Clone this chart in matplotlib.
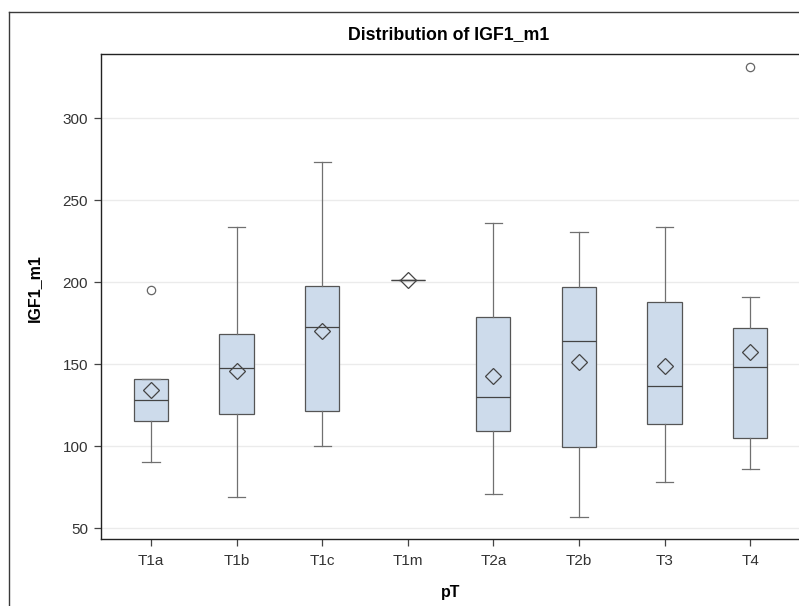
import matplotlib
matplotlib.use("Agg")
import matplotlib.pyplot as plt
from matplotlib.lines import Line2D

plt.rcParams['font.family'] = ['Liberation Sans', 'DejaVu Sans']

# Summary statistics of IGF1_m1 by pT stage
categories = ["T1a", "T1b", "T1c", "T1m", "T2a", "T2b", "T3", "T4"]
q1 = [115.2, 119.8, 121.3, 201.6, 109.3, 99.2, 113.7, 105.2]
medians = [128.2, 147.4, 172.6, 201.6, 129.8, 164.1, 136.5, 148.1]
q3 = [141.1, 168.5, 197.7, 201.6, 178.6, 196.9, 187.8, 171.8]
whisker_low = [90.5, 69.1, 99.8, 201.6, 70.8, 57.0, 77.8, 85.9]
whisker_high = [141.1, 233.6, 273.5, 201.6, 236.0, 230.5, 233.8, 190.8]
means = [134.2, 145.8, 170.1, 201.6, 142.8, 151.1, 148.8, 157.2]
outliers = [[195.5], [], [], [], [], [], [], [331.5]]
y_ticks = [50, 100, 150, 200, 250, 300]

stats = []
for i, name in enumerate(categories):
    stats.append(dict(label=name, q1=q1[i], med=medians[i], q3=q3[i],
                      whislo=whisker_low[i], whishi=whisker_high[i],
                      mean=means[i], fliers=outliers[i]))

W, H = 799, 606
fig = plt.figure(figsize=(W / 100, H / 100), dpi=100)

# outer graph frame (left and top edges)
frame_col = "#3a3a3a"
fig.add_artist(Line2D([9 / W, 9 / W], [0, 1 - 11.7 / H], transform=fig.transFigure,
                      color=frame_col, lw=1.0))
fig.add_artist(Line2D([9 / W, 1], [1 - 11.7 / H, 1 - 11.7 / H], transform=fig.transFigure,
                      color=frame_col, lw=1.0))

left, right, top, bottom = 100.7, 801.5, 54, 539
ax = fig.add_axes([left / W, 1 - bottom / H, (right - left) / W, (bottom - top) / H])

edge = "#555555"
whisk = "#707070"
ax.bxp(stats, positions=range(len(categories)), widths=0.4, capwidths=0.2,
       showmeans=True, patch_artist=True,
       boxprops=dict(facecolor="#CDDBEB", edgecolor=edge, linewidth=0.9),
       medianprops=dict(color="#444444", linewidth=0.9),
       whiskerprops=dict(color=whisk, linewidth=0.9),
       capprops=dict(color=whisk, linewidth=0.9),
       meanprops=dict(marker="D", markerfacecolor="none", markeredgecolor="#444444",
                      markersize=8.5, markeredgewidth=0.9),
       flierprops=dict(marker="o", markerfacecolor="none", markeredgecolor="#666666",
                       markersize=6.0, markeredgewidth=0.9))

ax.set_xlim(-0.588, 7.6)
ax.set_ylim(43.3, 339.2)
ax.set_yticks(y_ticks)
ax.set_xticks(range(len(categories)))
ax.set_xticklabels(categories)
ax.yaxis.grid(True, color="#ebebeb", linewidth=1.0)
ax.set_axisbelow(True)

for s in ["left", "bottom", "top"]:
    ax.spines[s].set_color("#222222")
    ax.spines[s].set_linewidth(1.0)
ax.spines["right"].set_visible(False)

ax.tick_params(axis="both", direction="out", length=5, width=0.9, color="#444444",
               labelsize=11, labelcolor="#333333", pad=4)
ax.tick_params(axis="x", pad=6)

ax.set_xlabel("pT", fontsize=11.5, fontweight="bold", labelpad=12)
ax.set_ylabel("IGF1_m1", fontsize=11.5, fontweight="bold", labelpad=15)
ax.yaxis.label.set_y(0.518)
fig.text(449 / W, 1 - 35 / H, "Distribution of IGF1_m1", ha="center", va="center",
         fontsize=12.8, fontweight="bold")

fig.savefig("out.png", dpi=100)
